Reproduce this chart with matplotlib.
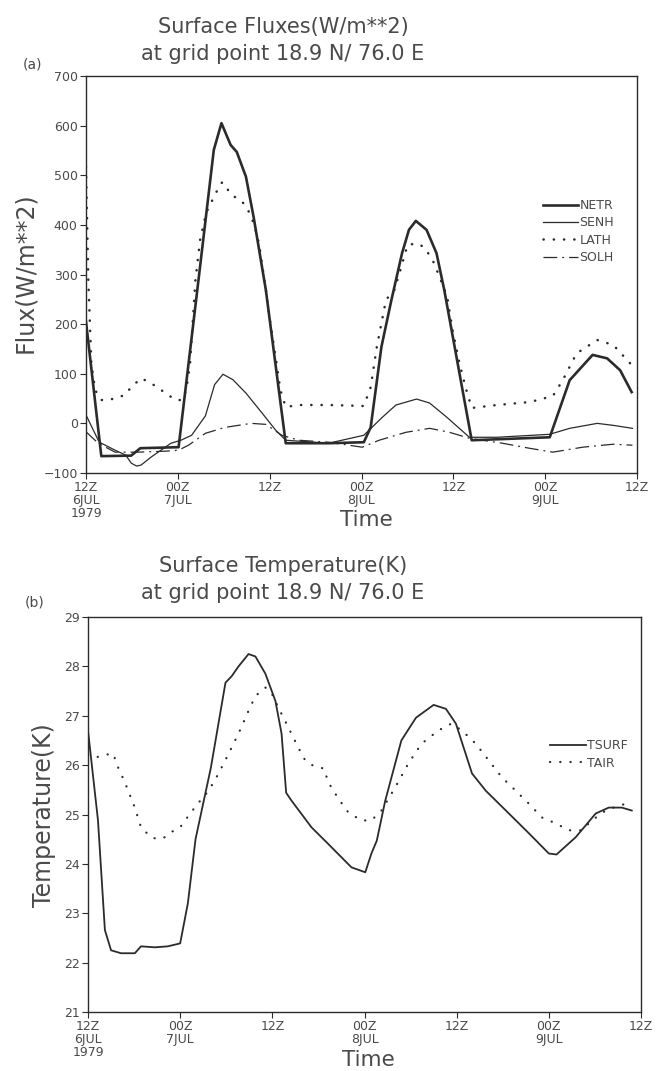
import matplotlib
matplotlib.use('Agg')
import matplotlib.pyplot as plt

# time axis: hours from 12Z 6 JUL 1979
xtick_hours = [0, 12, 24, 36, 48, 60, 72]
xtick_labels = ['12Z\n6JUL\n1979', '00Z\n7JUL', '12Z', '00Z\n8JUL', '12Z', '00Z\n9JUL', '12Z']

# (a) surface fluxes (W/m**2)
netr_t = [0, 2.0, 5.9, 7.1, 12.1, 14.7, 16.7, 17.7, 18.9, 19.7, 20.9, 21.9, 23.5, 26.1,
          31.7, 36.3, 37.2, 38.6, 39.9, 41.3, 42.2, 43.1, 44.5, 45.8, 46.8, 50.4,
          60.6, 63.2, 66.2, 68.1, 69.8, 71.3]
netr = [205, -66, -65, -50, -48, 289, 551, 605, 561, 547, 497, 416, 269, -40,
        -40, -38, -8, 154, 248, 343, 390, 408, 390, 343, 270, -34,
        -28, 87, 138, 131, 107, 63]

senh_t = [0, 1.6, 2.0, 3.8, 5.2, 5.9, 6.6, 7.2, 8.5, 9.8, 11.1, 12.4, 13.8, 15.6, 16.8,
          17.9, 19.2, 20.9, 23.0, 24.8, 26.1, 31.7, 36.3, 38.7, 40.5, 43.2, 44.9, 47.1,
          50.1, 53.7, 60.6, 63.2, 66.8, 68.9, 71.4]
senh = [17, -34, -40, -54, -64, -80, -86, -84, -68, -54, -40, -34, -24, 15, 78,
        99, 88, 61, 21, -14, -34, -40, -24, 12, 37, 49, 41, 13,
        -28, -28, -22, -10, 0, -4, -10]

lath_t = [0, 0.3, 0.7, 1.2, 2.0, 3.4, 5.1, 5.9, 7.2, 8.5, 10.4, 11.7, 12.5, 13.1, 13.6,
          14.3, 14.9, 15.7, 16.7, 17.3, 17.8, 18.4, 19.0, 20.2, 21.0, 21.9, 22.6, 23.5,
          23.9, 24.9, 25.4, 26.1, 27.8, 31.7, 36.3, 37.2, 38.0, 39.2, 40.3, 41.2, 42.0,
          43.2, 44.2, 45.3, 46.2, 47.2, 47.9, 48.8, 49.7, 50.4, 53.7, 58.0, 61.0, 62.3,
          64.1, 66.8, 68.9, 71.1]
lath = [517, 289, 121, 67, 47, 49, 57, 73, 91, 81, 61, 47, 47, 67, 121,
        289, 369, 424, 456, 474, 486, 474, 460, 450, 436, 404, 363, 269,
        222, 121, 67, 33, 37, 37, 35, 73, 154, 249, 269, 315, 359,
        363, 355, 329, 295, 255, 188, 121, 67, 31, 37, 43, 55, 87,
        141, 168, 158, 121]

solh_t = [0, 1.6, 3.8, 6.8, 10.4, 12.1, 13.4, 15.6, 18.2, 21.6, 23.5, 25.6, 27.8, 31.7,
          36.1, 38.3, 41.8, 44.9, 47.5, 50.1, 54.4, 57.9, 61.0, 64.9, 68.9, 71.4]
solh = [-17, -40, -58, -58, -56, -54, -44, -20, -8, 0, -2, -24, -34, -38,
        -48, -34, -18, -10, -18, -30, -40, -50, -58, -48, -42, -44]

# (b) surface temperature
tsurf_t = [0, 1.3, 2.2, 3.0, 4.3, 6.1, 6.9, 8.7, 10.4, 12.0, 13.0, 14.0, 16.0, 17.9,
           18.7, 19.6, 20.9, 21.8, 23.1, 24.4, 25.2, 25.8, 26.5, 29.1, 31.3, 34.3, 36.1,
           36.9, 37.6, 38.7, 40.8, 42.7, 45.0, 46.6, 47.9, 50.0, 51.8, 54.8, 57.4, 60.0,
           61.0, 63.5, 66.1, 67.8, 69.5, 70.8]
tsurf = [26.7, 24.88, 22.66, 22.25, 22.19, 22.19, 22.33, 22.31, 22.33, 22.39, 23.2, 24.5,
         25.95, 27.67, 27.8, 28.0, 28.25, 28.2, 27.85, 27.3, 26.64, 25.44, 25.28, 24.74,
         24.4, 23.93, 23.83, 24.21, 24.47, 25.28, 26.5, 26.96, 27.22, 27.14, 26.84, 25.83,
         25.48, 25.02, 24.62, 24.21, 24.19, 24.54, 25.02, 25.14, 25.14, 25.08]

tair_t = [0, 0.9, 2.2, 3.3, 3.7, 4.8, 6.1, 6.9, 8.2, 9.1, 10.0, 10.8, 12.0, 13.3, 14.3,
          15.7, 17.0, 18.3, 19.6, 20.9, 21.8, 23.1, 23.9, 24.8, 26.1, 27.4, 28.3, 29.3,
          30.7, 31.3, 32.6, 33.9, 35.6, 36.9, 38.2, 40.0, 41.7, 43.4, 45.6, 47.3, 48.7,
          50.5, 52.2, 53.9, 55.7, 57.4, 59.1, 60.9, 62.6, 64.3, 65.6, 67.4, 69.1, 70.7]
tair = [26.2, 26.15, 26.21, 26.23, 26.03, 25.65, 25.14, 24.74, 24.54, 24.5, 24.54, 24.64,
        24.74, 25.02, 25.22, 25.48, 25.83, 26.23, 26.64, 27.1, 27.4, 27.57, 27.46, 27.16,
        26.76, 26.35, 26.09, 25.99, 25.93, 25.65, 25.32, 25.04, 24.88, 24.88, 25.08, 25.55,
        26.03, 26.43, 26.7, 26.84, 26.7, 26.43, 26.09, 25.75, 25.48, 25.22, 24.94, 24.82,
        24.68, 24.68, 24.88, 25.08, 25.18, 25.24]

ink = '#2b2b2b'
txt = '#4a4a4a'
dots = (0, (0.1, 4))

fig = plt.figure(figsize=(6.63, 10.71), dpi=100)
W, H = 663.0, 1071.0


def style_axes(ax):
    for s in ax.spines.values():
        s.set_color(ink)
        s.set_linewidth(1.0)
    ax.set_xlim(0, 72)
    ax.set_xticks(xtick_hours)
    ax.set_xticklabels(xtick_labels, linespacing=1.0)
    ax.tick_params(direction='out', length=4, width=0.8, colors=ink,
                   labelcolor=txt, labelsize=9, pad=2)


# ---- (a) fluxes ----
ax1 = fig.add_axes([86 / W, 1 - 473 / H, 551 / W, 397 / H])
ax1.plot(netr_t, netr, color=ink, lw=1.9, label='NETR')
ax1.plot(senh_t, senh, color=ink, lw=0.9, label='SENH')
ax1.plot(lath_t, lath, color=ink, lw=1.8, ls=dots, dash_capstyle='round', label='LATH')
ax1.plot(solh_t, solh, color=ink, lw=0.9, ls=(0, (11, 4, 1.5, 4)), label='SOLH')
ax1.set_ylim(-100, 700)
ax1.set_yticks(range(-100, 701, 100))
style_axes(ax1)
ax1.legend(loc='upper left', bbox_to_anchor=(0.83, 0.69), frameon=False, fontsize=9,
           handlelength=2.8, handletextpad=0.1, labelspacing=0.35, borderpad=0,
           borderaxespad=0, labelcolor=txt)

fig.text(283 / W, 1 - 33 / H, 'Surface Fluxes(W/m**2)', ha='center', va='baseline',
         fontsize=15, color=txt)
fig.text(283 / W, 1 - 60 / H, 'at grid point 18.9 N/ 76.0 E', ha='center', va='baseline',
         fontsize=15, color=txt)
fig.text(33 / W, 1 - 65 / H, '(a)', ha='center', va='center', fontsize=10, color=txt)
fig.text(25 / W, 1 - 273 / H, 'Flux(W/m**2)', rotation=90, ha='center', va='center',
         fontsize=17, color=txt)
fig.text(366 / W, 1 - 520 / H, 'Time', ha='center', va='center', fontsize=15.5, color=txt)

# ---- (b) temperature ----
ax2 = fig.add_axes([88 / W, 1 - 1012 / H, 553 / W, 395 / H])
ax2.plot(tsurf_t, tsurf, color=ink, lw=1.3, label='TSURF')
ax2.plot(tair_t, tair, color=ink, lw=1.6, ls=(0, (0.1, 4.5)), dash_capstyle='round', label='TAIR')
ax2.set_ylim(21, 29)
ax2.set_yticks(range(21, 30))
style_axes(ax2)
ax2.legend(loc='upper left', bbox_to_anchor=(0.835, 0.69), frameon=False, fontsize=9,
           handlelength=2.9, handletextpad=0.1, labelspacing=0.35, borderpad=0,
           borderaxespad=0, labelcolor=txt)

fig.text(283 / W, 1 - 572 / H, 'Surface Temperature(K)', ha='center', va='baseline',
         fontsize=15, color=txt)
fig.text(283 / W, 1 - 599 / H, 'at grid point 18.9 N/ 76.0 E', ha='center', va='baseline',
         fontsize=15, color=txt)
fig.text(35 / W, 1 - 603 / H, '(b)', ha='center', va='center', fontsize=10, color=txt)
fig.text(44 / W, 1 - 815 / H, 'Temperature(K)', rotation=90, ha='center', va='center',
         fontsize=17, color=txt)
fig.text(368 / W, 1 - 1060 / H, 'Time', ha='center', va='center', fontsize=15.5, color=txt)

fig.savefig('out.png', dpi=100)
